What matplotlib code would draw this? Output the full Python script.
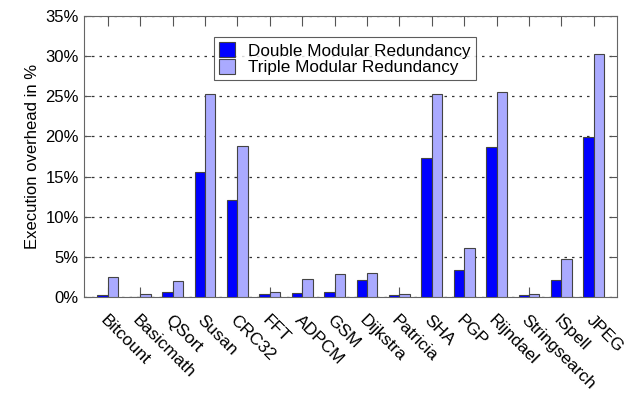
import numpy as np
import matplotlib.pyplot as plt

plt.rcParams['font.family'] = ['Liberation Sans', 'DejaVu Sans']

benchmarks = ["Bitcount", "Basicmath", "QSort", "Susan", "CRC32", "FFT", "ADPCM", "GSM",
              "Dijkstra", "Patricia", "SHA", "PGP", "Rijndael", "Stringsearch", "ISpell", "JPEG"]
dmr = [0.2, 0.05, 0.65, 15.6, 12.1, 0.33, 0.46, 0.58,
       2.08, 0.3, 17.3, 3.4, 18.65, 0.2, 2.1, 19.95]
tmr = [2.45, 0.35, 2.05, 25.25, 18.8, 0.58, 2.24, 2.86,
       2.95, 0.33, 25.25, 6.05, 25.55, 0.4, 4.7, 30.25]
yticks = [0, 5, 10, 15, 20, 25, 30, 35]

fig = plt.figure(figsize=(6.25, 3.96), dpi=100)
ax = fig.add_axes([0.134, 0.25, 0.853, 0.71])

x = np.arange(len(benchmarks))
w = 0.32
edge = "#444444"
ax.bar(x - w / 2, dmr, w, color="#0000ff", edgecolor=edge, linewidth=0.8,
       label="Double Modular Redundancy", zorder=3)
ax.bar(x + w / 2, tmr, w, color="#aaaaff", edgecolor=edge, linewidth=0.8,
       label="Triple Modular Redundancy", zorder=3)

ax.set_xlim(-0.74, len(benchmarks) - 1 + 0.71)
ax.set_ylim(0, 35)
ax.set_yticks(yticks)
ax.set_yticklabels([f"{v}%" for v in yticks], fontsize=12)
ax.set_xticks(x)
ax.set_xticklabels(benchmarks, rotation=-45, ha="left", va="top",
                   rotation_mode="anchor", fontsize=12.5)
ax.tick_params(axis="x", direction="in", length=7, top=True, color="#555555", pad=11)
ax.tick_params(axis="y", direction="in", length=5, right=True, color="#555555")
ax.yaxis.grid(True, linestyle=(0, (2, 4)), color="#333333", linewidth=0.9, zorder=0)

for s in ax.spines.values():
    s.set_color("#666666")

ax.set_ylabel("Execution overhead in %", fontsize=12)

leg = ax.legend(loc="upper center", bbox_to_anchor=(0.49, 0.925), fontsize=12.3,
                frameon=True, fancybox=False, handlelength=0.9, handleheight=1.0,
                borderpad=0.3, labelspacing=0.0, handletextpad=0.8, borderaxespad=0)
leg.get_frame().set_edgecolor("#333333")
leg.get_frame().set_linewidth(0.8)

plt.savefig("out.png", dpi=100)
